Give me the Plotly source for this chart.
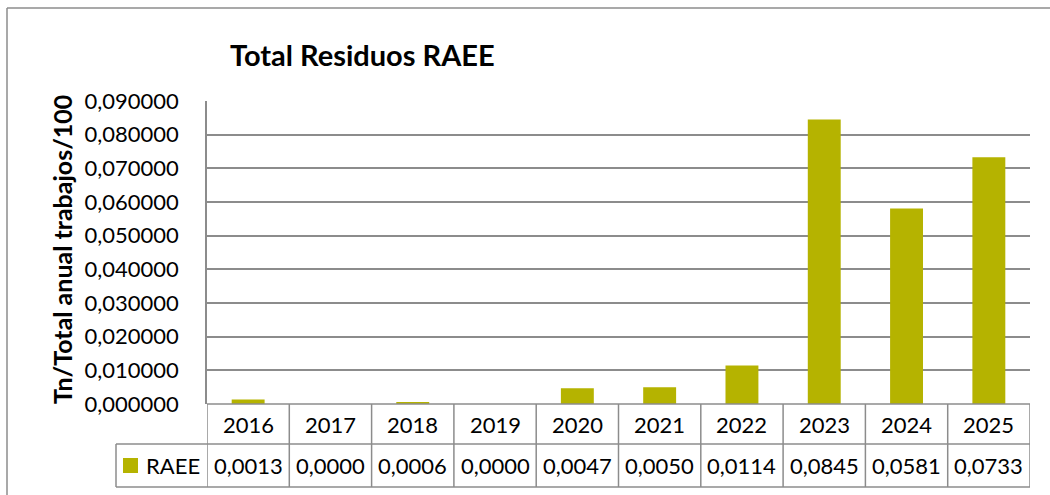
import plotly.graph_objects as go

# Datos del gráfico
years = ["2016", "2017", "2018", "2019", "2020", "2021", "2022", "2023", "2024", "2025"]
raee = [0.0013, 0.0000, 0.0006, 0.0000, 0.0047, 0.0050, 0.0114, 0.0845, 0.0581, 0.0733]
series_name = "RAEE"
chart_title = "Total Residuos RAEE"
y_title = "Tn/Total anual trabajos/100"

BAR = "#B5B300"
GRID = "#8c8c8c"
FONT = "Lato"

W, H = 1050, 495
L, R, T, B = 207, 20, 101, 91
PW, PH = W - L - R, H - T - B


def px_x(x):
    return (x - L) / PW


def px_y(y):
    return (H - B - y) / PH


n = len(years)
idx = list(range(n))

fig = go.Figure()
fig.add_trace(go.Bar(x=idx, y=raee, name=series_name, marker=dict(color=BAR, line=dict(width=0))))

# data table lines
row1, row2, row3 = px_y(404), px_y(444), px_y(487)
shapes = []
line = dict(color=GRID, width=1.5)
for i in range(n + 1):
    shapes.append(dict(type="line", xref="x", yref="paper", x0=i - 0.5, x1=i - 0.5,
                       y0=row1, y1=row3, line=line))
shapes.append(dict(type="line", xref="paper", yref="paper", x0=px_x(116), x1=1,
                   y0=row2, y1=row2, line=line))
shapes.append(dict(type="line", xref="paper", yref="paper", x0=px_x(116), x1=1,
                   y0=row3, y1=row3, line=line))
shapes.append(dict(type="line", xref="paper", yref="paper", x0=px_x(116), x1=px_x(116),
                   y0=row2, y1=row3, line=line))
shapes.append(dict(type="line", xref="paper", yref="paper", x0=0, x1=1,
                   y0=row1, y1=row1, line=line))
# legend key
shapes.append(dict(type="rect", xref="paper", yref="paper", x0=px_x(123), x1=px_x(138),
                   y0=px_y(473), y1=px_y(458), fillcolor=BAR, line=dict(width=0)))
# outer chart border
shapes.append(dict(type="line", xref="paper", yref="paper", x0=px_x(7), x1=px_x(1060),
                   y0=px_y(8), y1=px_y(8), line=dict(color=GRID, width=1.5)))
shapes.append(dict(type="line", xref="paper", yref="paper", x0=px_x(7), x1=px_x(7),
                   y0=px_y(8), y1=px_y(500), line=dict(color=GRID, width=1.5)))

cell_font = dict(size=22, color="black", family=FONT)
annotations = []
for i, (yr, v) in enumerate(zip(years, raee)):
    annotations.append(dict(x=i, xref="x", y=(row1 + row2) / 2, yref="paper", text=yr,
                            xanchor="center", yanchor="middle", showarrow=False, font=cell_font))
    annotations.append(dict(x=i, xref="x", y=(row2 + row3) / 2, yref="paper",
                            text=f"{v:.4f}".replace(".", ","),
                            xanchor="center", yanchor="middle", showarrow=False, font=cell_font))
annotations.append(dict(x=px_x(144), xref="paper", y=(row2 + row3) / 2, yref="paper",
                        text=series_name, xanchor="left", yanchor="middle", showarrow=False,
                        font=cell_font))
annotations.append(dict(x=px_x(228), xref="paper", y=px_y(55), yref="paper", text=f"<b>{chart_title}</b>",
                        xanchor="left", yanchor="middle", showarrow=False,
                        font=dict(size=29, color="black", family=FONT)))
annotations.append(dict(x=px_x(62), xref="paper", y=px_y(250), yref="paper", text=f"<b>{y_title}</b>",
                        textangle=-90, xanchor="center", yanchor="middle", showarrow=False,
                        font=dict(size=25, color="black", family=FONT)))

fig.update_layout(
    width=W, height=H,
    margin=dict(l=L, r=R, t=T, b=B),
    plot_bgcolor="white", paper_bgcolor="white",
    showlegend=False,
    bargap=0.6,
    separators=",.",
    font=dict(family=FONT, size=22, color="black"),
    shapes=shapes,
    annotations=annotations,
)
fig.update_xaxes(type="linear", showticklabels=False, showgrid=False, zeroline=False, showline=False,
                 range=[-0.5, n - 0.5])
fig.update_yaxes(range=[0, 0.09], dtick=0.01, tickformat=".6f", showgrid=True, gridcolor=GRID,
                 gridwidth=1.5, zeroline=False, showline=True, linecolor=GRID, linewidth=1.5,
                 ticklabelstandoff=22, tickfont=dict(size=22, family=FONT, color="black"))

fig.write_html("out.html", config={"displayModeBar": False},
               post_script="document.body.style.margin='0';")
